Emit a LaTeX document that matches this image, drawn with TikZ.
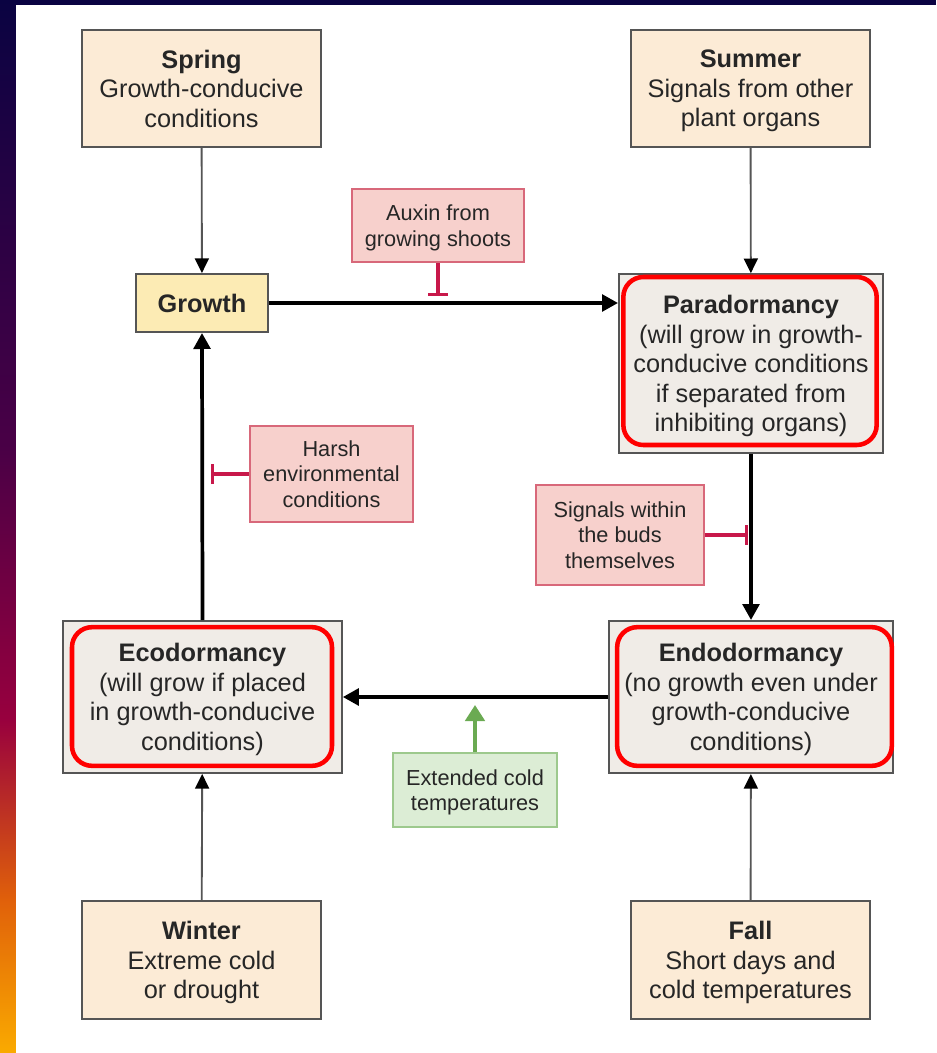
\documentclass[tikz,border=0pt]{standalone}
\usepackage{fontspec}
\setmainfont{Liberation Sans}
\usetikzlibrary{arrows.meta}
\definecolor{navybg}{HTML}{0A0342}
\definecolor{plumbg}{HTML}{4A0046}
\definecolor{crimbg}{HTML}{98003E}
\definecolor{rustbg}{HTML}{E0600A}
\definecolor{ambbg}{HTML}{FAAA00}
\definecolor{txt}{HTML}{262626}
\definecolor{boxline}{HTML}{555555}
\definecolor{seasonfill}{HTML}{FCEBD6}
\definecolor{growfill}{HTML}{FCEBB4}
\definecolor{dormfill}{HTML}{F0ECE7}
\definecolor{pinkfill}{HTML}{F7D0CC}
\definecolor{pinkline}{HTML}{D8687A}
\definecolor{inhibred}{HTML}{C8184A}
\definecolor{greenfill}{HTML}{DCEDD5}
\definecolor{greenline}{HTML}{9DC98D}
\definecolor{greenarr}{HTML}{6BAA52}
\newcommand{\boxfont}{\fontsize{19}{22.2}\selectfont}
\newcommand{\notefont}{\fontsize{16.3}{19}\selectfont}
\begin{document}
\begin{tikzpicture}[x=0.75pt,y=-0.75pt,
  season/.style={draw=boxline, line width=1.5pt, fill=seasonfill, text=txt, align=center,
    text depth=0pt, minimum width=179pt, minimum height=88pt, font=\boxfont},
  growbox/.style={draw=boxline, line width=1.5pt, fill=growfill, text=txt, text depth=0pt,
    minimum width=99pt, minimum height=43.5pt, font=\boxfont\bfseries},
  dormbox/.style={draw=boxline, line width=1.5pt, fill=dormfill, text=txt, align=center,
    text depth=0pt, font=\boxfont},
  redring/.style={draw=red, line width=3.4pt, rounded corners=15pt},
  inhibbox/.style={draw=pinkline, line width=1.3pt, fill=pinkfill, text=txt, align=center,
    text depth=0pt, font=\notefont},
  coldbox/.style={draw=greenline, line width=1.3pt, fill=greenfill, text=txt, align=center,
    text depth=0pt, font=\notefont},
  mainarrow/.style={line width=2.8pt, -{Triangle[length=12pt,width=12.5pt]}},
  feedarrow/.style={line width=1.4pt, draw=boxline, -{Triangle[length=11pt,width=10.5pt,color=black]}},
  inhib/.style={line width=2.4pt, draw=inhibred, -{Bar[width=15pt,line width=2.4pt]}},
  coldarrow/.style={line width=2.8pt, draw=greenarr, -{Triangle[length=12pt,width=14.5pt]}}]
\useasboundingbox (0,0) rectangle (936,1053);
% background
\fill[navybg] (0,0) rectangle (936,1053);
\shade[top color=navybg, bottom color=plumbg] (0,0) rectangle (16,450);
\shade[top color=plumbg, bottom color=crimbg] (0,449) rectangle (16,720);
\shade[top color=crimbg, bottom color=rustbg] (0,719) rectangle (16,900);
\shade[top color=rustbg, bottom color=ambbg] (0,899) rectangle (16,1053);
\fill[white] (16,5) rectangle (936,1053);
% seasons
\node[season] (spring) at (201.5,88.5) {\textbf{Spring}\\Growth-conducive\\conditions};
\node[season] (summer) at (750.5,88.5) {\textbf{Summer}\\Signals from other\\plant organs};
\node[season] (winter) at (201.5,960) {\textbf{Winter}\\Extreme cold\\or drought};
\node[season] (fall) at (750.5,960) {\textbf{Fall}\\Short days and\\cold temperatures};
% states
\node[growbox] (growth) at (202,303) {Growth};
\node[dormbox, minimum width=198pt, minimum height=134pt] (paradorm) at (751,363.5)
  {\textbf{Paradormancy}\\(will grow in growth-\\conducive conditions\\if separated from\\inhibiting organs)};
\node[dormbox, minimum width=213pt, minimum height=114pt] (endodorm) at (751,697)
  {\textbf{Endodormancy}\\(no growth even under\\growth-conducive\\conditions)};
\node[dormbox, minimum width=209pt, minimum height=114pt] (ecodorm) at (202.5,697)
  {\textbf{Ecodormancy}\\(will grow if placed\\in growth-conducive\\conditions)};
\node[redring, minimum width=190pt, minimum height=126pt] (pararing) at (750,361) {};
\node[redring, minimum width=206pt, minimum height=104pt] (endoring) at (754.5,696.5) {};
\node[redring, minimum width=195pt, minimum height=104pt] (ecoring) at (202,696.5) {};
% signals
\node[inhibbox, minimum width=129pt, minimum height=55pt] (auxin) at (438,225.5) {Auxin from\\growing shoots};
\node[inhibbox, minimum width=122pt, minimum height=72pt] (harsh) at (331.5,474) {Harsh\\environmental\\conditions};
\node[inhibbox, minimum width=126pt, minimum height=75pt] (budsig) at (620,535) {Signals within\\the buds\\themselves};
\node[coldbox, minimum width=123pt, minimum height=55.5pt] (cold) at (475,790) {Extended cold\\temperatures};
\coordinate (auxbar) at (438,296);
\coordinate (harshbar) at (211,474);
\coordinate (budbar) at (748,535);
\coordinate (coldtip) at (475,705);
% connectors
\draw[mainarrow] (growth.east) -- (growth.east -| paradorm.west);
\draw[mainarrow] (paradorm.south) -- (endodorm.north);
\draw[mainarrow] (endodorm.west) -- (ecodorm.east);
\draw[mainarrow] (ecodorm.north) -- (growth.south);
\draw[feedarrow] (spring) -- (growth);
\draw[feedarrow] (summer) -- (paradorm);
\draw[feedarrow] (winter) -- (ecodorm);
\draw[feedarrow] (fall) -- (endodorm);
\draw[inhib] (auxin.south) -- (auxbar);
\draw[inhib] (harsh.west) -- (harshbar);
\draw[inhib] (budsig.east) -- (budbar);
\draw[coldarrow] (cold.north) -- (coldtip);
\end{tikzpicture}
\end{document}
